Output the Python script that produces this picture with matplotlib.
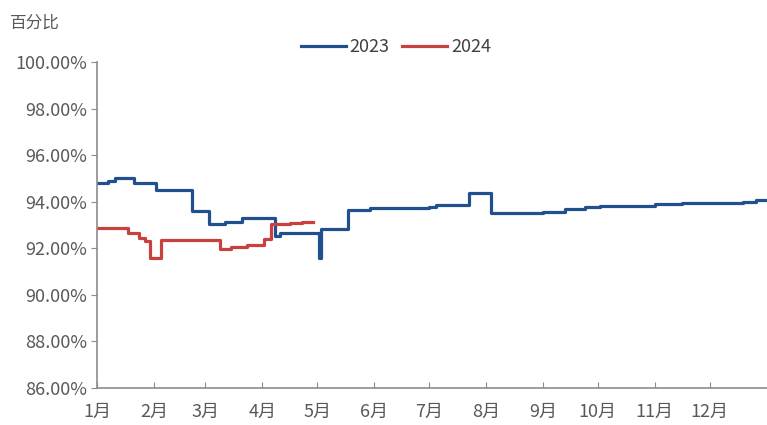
import numpy as np
import matplotlib
matplotlib.use("Agg")
import matplotlib.pyplot as plt
from matplotlib.ticker import FuncFormatter

plt.rcParams['font.family'] = ['Noto Sans CJK SC', 'DejaVu Sans']

# day of year (0 = Jan 1) where the value changes, step series
days_2023 = [0, 6, 10, 20, 32, 52, 61, 70, 79, 97, 100, 121, 122, 137, 149, 181, 185,
             203, 215, 243, 255, 266, 274, 304, 319, 352, 359, 365]
vals_2023 = [94.82, 94.9, 95.0, 94.8, 94.5, 93.62, 93.04, 93.15, 93.3, 92.55, 92.65, 91.58, 92.83,
             93.63, 93.73, 93.77, 93.87, 94.37, 93.51, 93.58, 93.69, 93.76, 93.83, 93.9, 93.94,
             94.01, 94.09, 94.09]

days_2024 = [0, 17, 23, 26, 29, 35, 67, 73, 82, 91, 95, 105, 112, 118]
vals_2024 = [92.87, 92.66, 92.44, 92.3, 91.6, 92.34, 91.97, 92.06, 92.16, 92.4, 93.05, 93.1,
             93.13, 93.13]

month_labels = ['1月', '2月', '3月', '4月', '5月', '6月', '7月', '8月', '9月', '10月', '11月', '12月']
month_len = [31, 28, 31, 30, 31, 30, 31, 31, 30, 31, 30, 31]
month_starts = np.concatenate([[0], np.cumsum(month_len)[:-1]])

fig = plt.figure(figsize=(7.67, 4.25), dpi=100)
ax = fig.add_axes([0.1265, 0.087, 0.873, 0.767])

ax.plot(days_2023, vals_2023, drawstyle='steps-post', color='#21508f', lw=2.3, label='2023')
ax.plot(days_2024, vals_2024, drawstyle='steps-post', color='#c9413e', lw=2.3, label='2024')

ax.set_xlim(0, 365)
ax.set_ylim(86, 100)
ax.set_yticks(np.arange(86, 100.1, 2))
ax.yaxis.set_major_formatter(FuncFormatter(lambda v, p: f'{v:.2f}%'))
ax.set_xticks(month_starts)
ax.set_xticklabels(month_labels)

for s in ['top', 'right']:
    ax.spines[s].set_visible(False)
for s in ['left', 'bottom']:
    ax.spines[s].set_color('#8c8c8c')
    ax.spines[s].set_linewidth(1.2)
ax.tick_params(axis='y', direction='out', length=4, color='#8c8c8c', labelsize=13,
               labelcolor='#595959', pad=3)
ax.tick_params(axis='x', direction='in', length=4, color='#8c8c8c', labelsize=13,
               labelcolor='#595959', pad=11)

fig.text(0.013, 0.945, '百分比', fontsize=12, color='#595959', va='center')
fig.legend(loc='center', bbox_to_anchor=(0.516, 0.889), ncol=2, frameon=False, fontsize=13,
           handlelength=2.5, columnspacing=0.7, handletextpad=0.2, labelcolor='#404040')

fig.savefig('out.png', dpi=100)
